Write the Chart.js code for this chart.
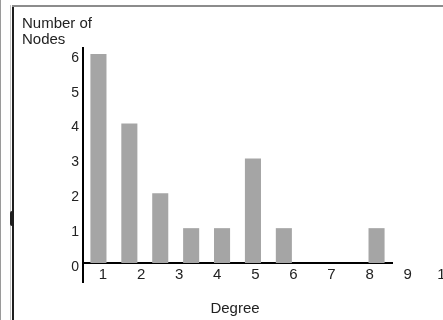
<!DOCTYPE html>
<html>
<head>
<meta charset="utf-8">
<script src="https://cdn.jsdelivr.net/npm/chart.js@4"></script>
<style>
  html, body { margin: 0; padding: 0; background: #fff; overflow: hidden; width: 443px; height: 320px; }
  #wrap { position: relative; width: 443px; height: 320px; overflow: hidden; }
  #myChart { position: absolute; left: 0; top: 0; }
  .ln { position: absolute; }
</style>
</head>
<body>
<div id="wrap">
  <!-- scan frame -->
  <div class="ln" style="left:0;top:0;width:1px;height:320px;background:#9a9a9a"></div>
  <div class="ln" style="left:10px;top:5px;width:1px;height:315px;background:#c4c4c4"></div>
  <div class="ln" style="left:12px;top:5px;width:2px;height:315px;background:#1e1e1e"></div>
  <div class="ln" style="left:10px;top:211px;width:4px;height:15px;background:#1e1e1e;border-radius:2px"></div>
  <div class="ln" style="left:12px;top:5px;width:431px;height:2px;background:#8c8c8c"></div>
  <canvas id="myChart" width="448" height="320"></canvas>
</div>
<script>
// bar slots along the baseline, counts per slot
let barSlots = ["1", "2", "3", "4", "5", "6", "7", "8", "9", "10"];
let nodeCounts = [6, 4, 2, 1, 1, 3, 1, 0, 0, 1];
// printed degree labels under the axis
let degreeLabels = ["1", "2", "3", "4", "5", "6", "7", "8", "9", "10"];
let countTicks = [0, 1, 2, 3, 4, 5, 6];

const inkColor = "#222";
const fontFamily = "'Liberation Sans', Arial, sans-serif";

new Chart("myChart", {
  type: "bar",
  data: {
    labels: barSlots,
    datasets: [{
      data: nodeCounts,
      backgroundColor: "#a5a5a5",
      borderWidth: 0,
      barPercentage: 0.52,
      categoryPercentage: 1,
      xAxisID: "x",
      yAxisID: "y"
    }]
  },
  options: {
    responsive: false,
    animation: false,
    layout: { padding: { left: 22, right: 0, top: 0, bottom: 0 } },
    plugins: {
      legend: { display: false },
      tooltip: { enabled: false },
      title: {
        display: true,
        text: ["Number of", "Nodes"],
        align: "start",
        color: inkColor,
        font: { family: fontFamily, size: 15, weight: "normal", lineHeight: 1.05 },
        padding: { top: 16, bottom: 0.5 }
      },
      subtitle: {
        display: true,
        position: "bottom",
        text: "Degree",
        color: inkColor,
        font: { family: fontFamily, size: 15, lineHeight: 1.2 },
        padding: { top: 17, bottom: 2 }
      }
    },
    scales: {
      x: {
        type: "category",
        position: "bottom",
        stack: "base",
        stackWeight: 309,
        offset: true,
        ticks: { display: false },
        grid: {
          offset: true,
          drawOnChartArea: false,
          drawTicks: true,
          tickLength: 20,
          lineWidth: 2,
          color: function(c) { return c.type === "tick" && c.index === 0 ? "#000" : "rgba(0,0,0,0)"; }
        },
        border: { display: true, color: "#000", width: 2 }
      },
      xfill: {
        type: "linear",
        axis: "x",
        position: "bottom",
        stack: "base",
        stackWeight: 56,
        offset: false,
        display: false
      },
      xlab: {
        type: "linear",
        axis: "x",
        position: { y: 0 },
        min: 0.475,
        max: 10.06,
        offset: false,
        grid: { display: false, offset: false, drawTicks: false },
        border: { display: false },
        ticks: {
          stepSize: 1,
          includeBounds: false,
          padding: 3,
          color: inkColor,
          font: { family: fontFamily, size: 15 },
          maxRotation: 0,
          autoSkip: false,
          callback: function(v) { return degreeLabels[v - 1]; }
        },
        afterFit: function(s) { s.paddingLeft = 0; s.paddingRight = 0; }
      },
      y: {
        type: "linear",
        position: "left",
        min: 0,
        max: 6.17,
        grid: { display: false, drawTicks: false },
        border: { display: true, color: "#000", width: 2 },
        ticks: {
          stepSize: 1,
          includeBounds: false,
          padding: 4,
          labelOffset: 4,
          color: inkColor,
          font: { family: fontFamily, size: 14 },
          callback: function(v) { return countTicks.includes(v) ? String(v) : ""; }
        },
        afterFit: function(s) { s.width = 61; }
      }
    }
  }
});
</script>
</body>
</html>
